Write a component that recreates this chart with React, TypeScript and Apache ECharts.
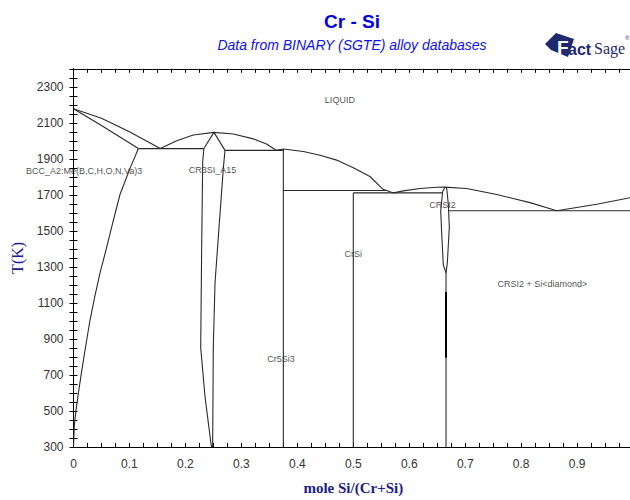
import React, { useEffect, useRef } from "react";
import * as echarts from "echarts";

// ---- axis settings ----
const xMin = 0;
const xMax = 1;
const xStep = 0.025;
const yMin = 300;
const yMax = 2400;
const yStep = 50;
const yLabelStart = 300;
const yLabelStep = 200;

// ---- phase boundaries [x, T(K)] ----
const liquidusCr = [[0, 2178], [0.05, 2125], [0.1, 2050], [0.155, 1957]];
const solidusCr = [[0, 2178], [0.05, 2085], [0.116, 1957]];
const solvusBcc = [
  [0.116, 1957], [0.101, 1847], [0.0831, 1702], [0.0711, 1557], [0.0581, 1394],
  [0.0474, 1267], [0.0384, 1141], [0.0295, 1005], [0.0223, 869], [0.0147, 723],
  [0.0086, 596], [0.0045, 505], [0.0014, 416], [0.0005, 340], [0, 300],
];
const liquidusCr3Si = [
  [0.155, 1957], [0.1844, 2001], [0.2141, 2032], [0.251, 2047], [0.2856, 2038],
  [0.3213, 2011], [0.345, 1982], [0.362, 1948], [0.375, 1955],
];
const liquidusSi = [
  [0.375, 1955], [0.4107, 1941], [0.4405, 1920], [0.4703, 1893], [0.5, 1851],
  [0.5298, 1802], [0.5536, 1729], [0.56, 1724], [0.5656, 1717], [0.572, 1711],
  [0.5894, 1722], [0.6192, 1735], [0.649, 1742], [0.663, 1743], [0.7026, 1735],
  [0.7562, 1702], [0.8158, 1657], [0.8635, 1612], [0.935, 1648], [0.9945, 1684],
  [1, 1687],
];
const cr3SiLeft = [
  [0.251, 2047], [0.233, 1957], [0.2309, 1884], [0.229, 1400], [0.2273, 852],
  [0.235, 580], [0.2457, 318], [0.247, 300],
];
const cr3SiRight = [
  [0.251, 2047], [0.2707, 1947], [0.2677, 1847], [0.2529, 1212], [0.2498, 852],
  [0.2487, 308], [0.248, 300],
];
const eutecticBcc = [[0.116, 1957], [0.233, 1957]];
const eutecticCr5Si3 = [[0.2707, 1947], [0.375, 1947]];
const cr5Si3Line = [[0.375, 300], [0.375, 1955]];
const peritecticCrSi = [[0.375, 1724], [0.56, 1724]];
const crSiLine = [[0.5, 300], [0.5, 1711]];
const eutecticCrSi = [[0.5, 1711], [0.6595, 1711]];
const crSi2Left = [
  [0.664, 1742], [0.6598, 1720], [0.6562, 1612], [0.658, 1484], [0.6608, 1312],
  [0.6657, 1267],
];
const crSi2Right = [
  [0.664, 1742], [0.6669, 1738], [0.6698, 1648], [0.6716, 1521], [0.668, 1321],
  [0.6657, 1267],
];
const crSi2Line = [[0.6657, 1267], [0.6657, 300]];
const crSi2Thick = [[0.6657, 1160], [0.6657, 796]];
const eutecticSi = [[0.6705, 1612], [1, 1612]];

const thinCurves = [
  liquidusCr, solidusCr, solvusBcc, liquidusCr3Si, liquidusSi, cr3SiLeft, cr3SiRight,
  eutecticBcc, eutecticCr5Si3, cr5Si3Line, peritecticCrSi, crSiLine, eutecticCrSi,
  crSi2Left, crSi2Right, crSi2Line, eutecticSi,
];

// ---- region labels [x, T, text] ----
const regionLabels: [number, number, string][] = [
  [0.476, 2228, "LIQUID"],
  [0.019, 1832, "BCC_A2:Me(B,C,H,O,N,Va)3"],
  [0.2484, 1836, "CR3SI_A15"],
  [0.3708, 786, "Cr5Si3"],
  [0.5, 1369, "CrSi"],
  [0.6594, 1644, "CRSI2"],
  [0.838, 1205, "CRSI2 + Si<diamond>"],
];

const titleText = "Cr - Si";
const subtitleText = "Data from BINARY (SGTE) alloy databases";
const xName = "mole Si/(Cr+Si)";
const yName = "T(K)";

const SANS = "'Liberation Sans', Arial, sans-serif";
const SERIF = "'Liberation Serif', 'Times New Roman', serif";
const LINE = "#2a2a2a";
const NAVY = "#1f2a6e";

export default function App() {
  const ref = useRef<HTMLDivElement>(null);
  useEffect(() => {
    document.body.style.margin = "0";
    document.body.style.overflow = "hidden";
    if (!ref.current) return;
    const chart = echarts.init(ref.current, undefined, { renderer: "svg" });

    const tick = { inside: true, length: 4, lineStyle: { color: "#000", width: 1 } };
    const axisLine = { show: true, lineStyle: { color: "#000", width: 1 } };

    const series: any[] = thinCurves.map((d) => ({
      type: "line",
      data: d,
      showSymbol: false,
      silent: true,
      lineStyle: { color: LINE, width: 1.1 },
    }));
    series.push({
      type: "line",
      data: crSi2Thick,
      showSymbol: false,
      silent: true,
      lineStyle: { color: "#000", width: 2 },
    });
    series.push({
      type: "scatter",
      symbolSize: 0,
      silent: true,
      data: regionLabels.map((l) => ({
        value: [l[0], l[1]],
        label: {
          show: true,
          position: "inside",
          formatter: l[2],
          fontSize: 9,
          fontFamily: SANS,
          color: "#222",
        },
      })),
    });

    chart.setOption({
      animation: false,
      grid: { left: 73.5, top: 68.8, width: 559.6, height: 386.1 },
      xAxis: [
        {
          type: "value",
          min: xMin,
          max: xMax,
          interval: xStep,
          position: "bottom",
          axisLine,
          axisTick: tick,
          splitLine: { show: false },
          name: xName,
          nameLocation: "middle",
          nameGap: 33,
          nameTextStyle: { fontFamily: SERIF, fontWeight: "bold", fontSize: 15, color: "#1c1c8a" },
          axisLabel: {
            margin: 11,
            fontSize: 12,
            fontFamily: SANS,
            color: "#333",
            formatter: (v: number) => {
              const r = Math.round(v / xStep);
              if (r % 4 !== 0 || r >= 40) return "";
              return r === 0 ? "0" : (r / 40).toFixed(1);
            },
          },
        },
        {
          type: "value",
          min: xMin,
          max: xMax,
          interval: xStep,
          position: "top",
          axisLine,
          axisTick: tick,
          axisLabel: { show: false },
          splitLine: { show: false },
        },
      ],
      yAxis: [
        {
          type: "value",
          min: yMin,
          max: yMax,
          interval: yStep,
          position: "left",
          axisLine,
          axisTick: tick,
          splitLine: { show: false },
          name: yName,
          nameLocation: "middle",
          nameGap: 48,
          nameRotate: 90,
          nameTextStyle: { fontFamily: SERIF, fontSize: 16, color: "#1c1c9a" },
          axisLabel: {
            margin: 10,
            fontSize: 12,
            fontFamily: SANS,
            color: "#333",
            formatter: (v: number) => {
              const r = Math.round(v);
              if ((r - yLabelStart) % yLabelStep !== 0 || r >= yMax) return "";
              return String(r);
            },
          },
        },
        {
          type: "value",
          min: yMin,
          max: yMax,
          interval: yStep,
          position: "right",
          axisLine,
          axisTick: tick,
          axisLabel: { show: false },
          splitLine: { show: false },
        },
      ],
      graphic: [
        {
          type: "text",
          x: 352,
          y: 21,
          style: {
            text: titleText,
            font: `bold 19px ${SANS}`,
            fill: "#0000e6",
            align: "center",
            verticalAlign: "middle",
          },
        },
        {
          type: "text",
          x: 352,
          y: 45,
          style: {
            text: subtitleText,
            font: `italic 14px ${SANS}`,
            fill: "#1010ee",
            align: "center",
            verticalAlign: "middle",
          },
        },
        {
          type: "polygon",
          shape: { points: [[545, 44], [556, 33], [574, 39], [568, 57], [551, 50]] },
          style: { fill: NAVY },
        },
        {
          type: "text",
          x: 557,
          y: 47,
          style: { text: "F", font: `bold 19px ${SANS}`, fill: "#ffffff", verticalAlign: "middle" },
        },
        {
          type: "text",
          x: 568,
          y: 49,
          style: { text: "act", font: `bold 16px ${SANS}`, fill: NAVY, verticalAlign: "middle" },
        },
        {
          type: "text",
          x: 594,
          y: 48,
          style: { text: "Sage", font: `16px ${SERIF}`, fill: NAVY, verticalAlign: "middle" },
        },
        {
          type: "text",
          x: 625,
          y: 38,
          style: { text: "®", font: `6px ${SANS}`, fill: NAVY, verticalAlign: "middle" },
        },
      ],
      series,
    });
    return () => chart.dispose();
  }, []);
  return <div ref={ref} style={{ width: 640, height: 500 }} />;
}
